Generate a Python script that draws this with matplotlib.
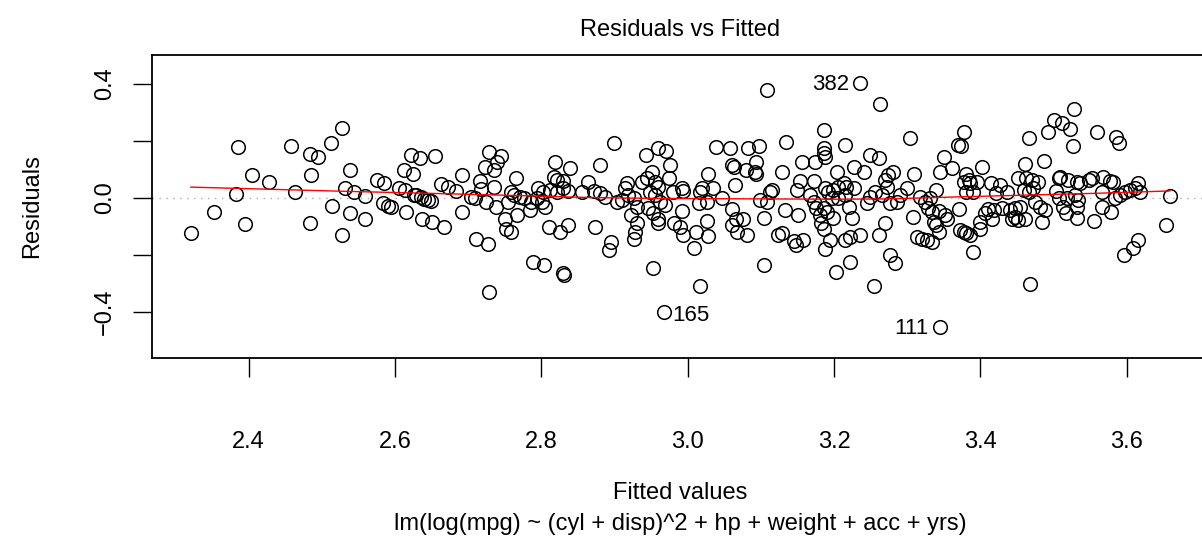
import numpy as np
import matplotlib
matplotlib.use("Agg")
import matplotlib.pyplot as plt

plt.rcParams['font.family'] = ['Liberation Sans', 'DejaVu Sans']

fitted = np.array([
    2.321, 2.353, 2.383, 2.395, 2.386, 2.405, 2.428,
    2.458, 2.463, 2.484, 2.495, 2.485, 2.484, 2.513, 2.527, 2.514, 2.527, 2.538, 2.532, 2.544, 2.559, 2.538, 2.559,
    2.575, 2.585, 2.583, 2.591, 2.595, 2.605, 2.612, 2.613, 2.615, 2.622, 2.625, 2.626,
    2.634, 2.655, 2.629, 2.635, 2.640, 2.645, 2.649, 2.637, 2.650, 2.667, 2.663, 2.672, 2.684, 2.692, 2.691, 2.728,
    2.745, 2.740, 2.723, 2.735, 2.716, 2.735, 2.766, 2.704, 2.710, 2.717, 2.725, 2.738, 2.758, 2.762, 2.755, 2.771,
    2.776, 2.786, 2.784, 2.767, 2.751, 2.752, 2.758, 2.795, 2.794, 2.711, 2.727, 2.789, 2.728,
    2.802, 2.801, 2.805, 2.810, 2.803, 2.819, 2.839, 2.817, 2.822, 2.830, 2.812, 2.821, 2.830, 2.837, 2.826, 2.837,
    2.829, 2.831, 2.864, 2.855, 2.872, 2.880, 2.887, 2.880, 2.899, 2.874, 2.895, 2.893, 2.903, 2.910, 2.917, 2.915,
    2.918, 2.926, 2.931, 2.922, 2.931, 2.928, 2.927, 2.943, 2.959, 2.971, 2.937, 2.944, 2.951, 2.956, 2.960, 2.949,
    2.956, 2.962, 2.969, 2.946, 2.953, 2.959, 2.960, 2.974, 2.976, 2.980, 2.981, 2.953, 2.967,
    2.992, 2.993, 2.992, 2.990, 2.994, 3.008, 3.012, 3.017, 3.019, 3.016, 3.027, 3.028, 3.034, 3.027, 3.028, 3.039,
    3.047, 3.058, 3.060, 3.064, 3.065, 3.060, 3.060, 3.066, 3.067, 3.076, 3.081, 3.082, 3.080, 3.092, 3.094, 3.094,
    3.098, 3.108, 3.099, 3.108, 3.113, 3.115, 3.104, 3.105, 3.017, 3.129, 3.135, 3.133, 3.124, 3.129, 3.145, 3.148,
    3.151, 3.149, 3.154, 3.156,
    3.236, 3.263, 3.186, 3.186, 3.186, 3.188, 3.215, 3.304, 3.174, 3.204, 3.227, 3.241, 3.249, 3.261, 3.172, 3.167,
    3.172, 3.176, 3.188, 3.192, 3.199, 3.206, 3.213, 3.217, 3.227, 3.197, 3.206, 3.215, 3.221, 3.186, 3.181, 3.190,
    3.199, 3.224, 3.182, 3.186, 3.194, 3.188, 3.158, 3.215, 3.222, 3.235, 3.245, 3.249, 3.256, 3.265, 3.270, 3.274,
    3.280, 3.273, 3.277, 3.286, 3.290, 3.300, 3.270, 3.261, 3.276, 3.284, 3.222, 3.203, 3.254, 3.309, 3.308, 3.313,
    3.320, 3.327, 3.318, 3.324, 3.329, 3.334,
    3.345, 3.345, 3.350, 3.361, 3.340, 3.331, 3.344, 3.352, 3.354, 3.336, 3.340, 3.343, 3.334, 3.371, 3.372, 3.377,
    3.381, 3.386, 3.390, 3.370, 3.373, 3.378, 3.381, 3.377, 3.384, 3.386, 3.395, 3.381, 3.390, 3.402, 3.400, 3.399,
    3.406, 3.411, 3.416, 3.418, 3.414, 3.427, 3.422, 3.436, 3.429, 3.441, 3.443, 3.447, 3.452, 3.447, 3.454, 3.461,
    3.452, 3.463, 3.470, 3.479, 3.459, 3.466, 3.472, 3.461, 3.466, 3.468, 3.487, 3.475, 3.482, 3.488, 3.484, 3.493,
    3.500, 3.507, 3.509, 3.503, 3.507, 3.513,
    3.511, 3.528, 3.523, 3.526, 3.560, 3.586, 3.590, 3.520, 3.532, 3.536, 3.549, 3.552, 3.567, 3.577, 3.581, 3.616,
    3.611, 3.605, 3.618, 3.598, 3.591, 3.584, 3.566, 3.518, 3.529, 3.534, 3.532, 3.517, 3.532, 3.555, 3.566, 3.579,
    3.659, 3.654, 3.616, 3.609, 3.596,
])

residuals = np.array([
    -0.125, -0.051, 0.012, -0.092, 0.178, 0.080, 0.056,
    0.181, 0.021, 0.152, 0.143, 0.080, -0.087, 0.193, 0.244, -0.030, -0.131, 0.099, 0.033, 0.021, 0.005, -0.054, -0.074,
    0.061, 0.053, -0.018, -0.028, -0.033, 0.033, 0.096, 0.028, -0.049, 0.150, 0.083, 0.009,
    0.138, 0.147, 0.009, 0.004, -0.005, -0.008, -0.011, -0.073, -0.084, -0.103, 0.047, 0.039, 0.023, 0.080, -0.051, 0.161,
    0.146, 0.124, 0.109, 0.097, 0.058, 0.039, 0.068, 0.004, 0.000, 0.030, -0.014, -0.032, 0.021, 0.009, -0.014, 0.004,
    -0.002, -0.014, -0.043, -0.061, -0.073, -0.110, -0.119, 0.033, -0.002, -0.146, -0.163, -0.225, -0.330,
    0.021, -0.014, -0.032, -0.102, -0.236, 0.124, 0.105, 0.074, 0.062, 0.058, 0.027, 0.021, 0.033, 0.023, -0.119, -0.096,
    -0.265, -0.271, 0.056, 0.019, 0.023, 0.015, 0.004, 0.115, 0.191, -0.102, -0.154, -0.184, -0.014, -0.008, 0.050, 0.033,
    0.009, -0.002, -0.032, -0.061, -0.090, -0.119, -0.143, 0.150, 0.175, 0.164, 0.056, 0.068, 0.091, 0.056, 0.039, 0.021,
    0.009, -0.014, -0.026, -0.037, -0.055, -0.073, -0.090, 0.068, 0.115, 0.021, -0.090, -0.246, -0.400,
    0.033, 0.023, -0.047, -0.102, -0.131, -0.175, -0.119, 0.021, 0.033, -0.020, -0.014, 0.085, 0.035, -0.081, -0.133, 0.179,
    -0.002, 0.175, 0.115, 0.109, 0.044, -0.040, -0.096, -0.073, -0.119, -0.073, -0.131, 0.175, 0.097, 0.091, 0.085, 0.126,
    0.182, 0.378, -0.008, -0.014, 0.021, 0.027, -0.070, -0.236, -0.309, 0.089, 0.194, -0.043, -0.129, -0.125, -0.152, -0.164,
    -0.061, 0.027, 0.058, 0.126,
    0.401, 0.328, 0.237, 0.175, 0.156, 0.144, 0.185, 0.208, 0.124, 0.091, 0.109, 0.091, 0.150, 0.140, 0.058, 0.009,
    -0.014, -0.037, 0.033, 0.021, 0.027, 0.039, 0.050, 0.039, 0.033, -0.002, -0.002, 0.009, -0.032, -0.037, -0.061, -0.049,
    -0.070, -0.070, -0.090, -0.108, -0.149, -0.178, -0.149, -0.149, -0.137, -0.131, -0.020, 0.004, 0.021, 0.009, 0.062, 0.080,
    0.089, 0.039, -0.020, -0.014, 0.009, 0.033, -0.090, -0.129, -0.201, -0.230, -0.225, -0.260, -0.309, 0.085, -0.067, -0.137,
    -0.143, -0.149, 0.004, -0.014, -0.037, -0.049,
    -0.453, 0.091, 0.144, 0.103, 0.027, -0.002, -0.047, -0.061, -0.073, -0.084, -0.096, -0.119, -0.154, -0.040, -0.113, -0.119,
    -0.125, -0.131, -0.192, 0.185, 0.182, 0.232, 0.085, 0.056, 0.062, 0.050, 0.056, 0.021, 0.021, 0.109, -0.084, -0.108,
    -0.055, -0.040, -0.073, -0.043, 0.050, 0.044, 0.015, 0.021, -0.037, -0.043, -0.073, -0.067, -0.078, -0.037, -0.032, -0.073,
    0.068, 0.070, 0.062, 0.056, 0.027, 0.021, 0.033, 0.120, 0.208, -0.303, 0.129, -0.014, -0.032, -0.043, -0.084, 0.232,
    0.273, 0.068, 0.074, 0.023, -0.002, -0.032,
    0.261, 0.313, 0.241, 0.182, 0.232, 0.212, 0.193, 0.062, 0.056, 0.050, 0.062, 0.070, 0.074, 0.058, 0.054, 0.050,
    0.033, 0.027, 0.021, 0.019, 0.009, -0.002, 0.021, -0.002, 0.009, -0.008, -0.032, -0.055, -0.070, -0.081, -0.032, -0.049,
    0.007, -0.096, -0.149, -0.175, -0.201,
])

label_ids = ["382", "165", "111"]
label_fitted = [3.236, 2.967, 3.345]
label_resid = [0.401, -0.400, -0.453]
label_side = ["left", "right", "left"]

x_ticks = [2.4, 2.6, 2.8, 3.0, 3.2, 3.4, 3.6]
x_ticklabels = ["2.4", "2.6", "2.8", "3.0", "3.2", "3.4", "3.6"]
y_ticks = [-0.4, -0.2, 0.0, 0.2, 0.4]
y_ticklabels = ["\u22120.4", "", "0.0", "", "0.4"]


def lowess(x, y, f=2/3, iters=3):
    o = np.argsort(x)
    xs, ys = x[o], y[o]
    n = len(xs)
    r = int(np.ceil(f * n))
    delta = np.ones(n)
    yest = np.zeros(n)
    for _ in range(iters + 1):
        for i in range(n):
            d = np.abs(xs - xs[i])
            h = np.sort(d)[r - 1]
            w = np.clip(d / h, 0, 1)
            w = (1 - w ** 3) ** 3 * delta
            sw = w.sum()
            mx = (w * xs).sum() / sw
            my = (w * ys).sum() / sw
            sxx = (w * (xs - mx) ** 2).sum()
            if sxx > 1e-12:
                b = (w * (xs - mx) * (ys - my)).sum() / sxx
            else:
                b = 0.0
            yest[i] = my + b * (xs[i] - mx)
        res = ys - yest
        s = np.median(np.abs(res))
        u = np.clip(res / (6 * s), -1, 1)
        delta = (1 - u ** 2) ** 2
    return xs, yest


W, H = 1202, 542
FS = 17
fig = plt.figure(figsize=(W / 100, H / 100), dpi=100)
left, right, top, bottom = 151.7, 1209.0, 55.0, 357.7
ax = fig.add_axes([left / W, 1 - bottom / H, (right - left) / W, (bottom - top) / H])

ax.axhline(0, color="#aaaaaa", lw=1.0, linestyle=(0, (1, 4)), zorder=1)
ax.plot(fitted, residuals, linestyle="none", marker="o", ms=9.8, mfc="none",
        mec="black", mew=1.1, zorder=2)
lx, ly = lowess(fitted, residuals)
ax.plot(lx, ly, color="red", lw=1.0, zorder=3)

for lab, fx, ry, side in zip(label_ids, label_fitted, label_resid, label_side):
    if side == "left":
        ax.annotate(lab, (fx, ry), xytext=(-8, -1), textcoords="offset points",
                    ha="right", va="center", fontsize=16)
    else:
        ax.annotate(lab, (fx, ry), xytext=(6, -3), textcoords="offset points",
                    ha="left", va="center", fontsize=16)

ax.set_xlim(2.2675, 3.7125)
ax.set_ylim(-0.561, 0.5007)
ax.set_xticks(x_ticks)
ax.set_xticklabels(x_ticklabels, fontsize=FS)
ax.set_yticks(y_ticks)
ax.set_yticklabels(y_ticklabels, fontsize=FS, rotation=90, va="center")
ax.tick_params(axis="x", length=13.7, width=1.0, pad=39)
ax.tick_params(axis="y", length=13.7, width=1.0, pad=12)
for sp in ax.spines.values():
    sp.set_linewidth(1.3)

fig.text(680 / W, 1 - 30 / H, "Residuals vs Fitted", ha="center", va="center", fontsize=FS)
fig.text(680 / W, 1 - 493 / H, "Fitted values", ha="center", va="center", fontsize=FS)
fig.text(680 / W, 1 - 524 / H, "lm(log(mpg) ~ (cyl + disp)^2 + hp + weight + acc + yrs)",
         ha="center", va="center", fontsize=FS)
fig.text(32 / W, 1 - 206 / H, "Residuals", ha="center", va="center", rotation=90, fontsize=FS)

fig.savefig("out.png", dpi=100)
